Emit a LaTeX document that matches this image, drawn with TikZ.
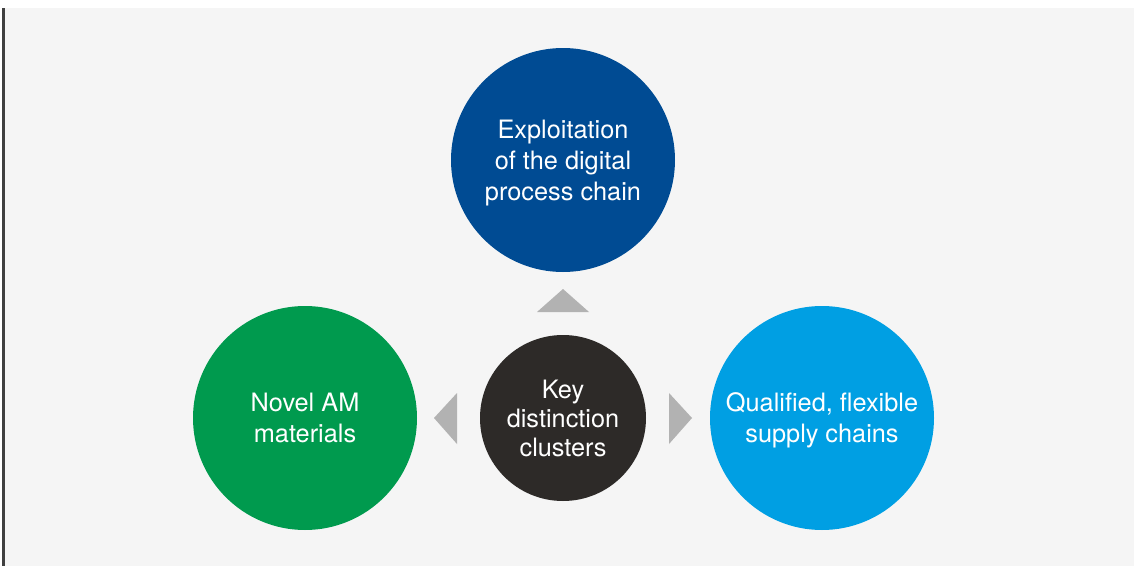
\documentclass[tikz,border=0pt]{standalone}
\usepackage{fontspec}
\setmainfont{TeX Gyre Heros}
\usetikzlibrary{positioning}
\definecolor{DeepBlue}{HTML}{004B93}
\definecolor{LeafGreen}{HTML}{009A4E}
\definecolor{SkyBlue}{HTML}{009FE3}
\definecolor{Charcoal}{HTML}{2D2A28}
\definecolor{PaleGrey}{HTML}{F5F5F5}
\definecolor{ArrowGrey}{HTML}{B2B2B2}
\tikzset{
    cluster/.style={circle, minimum size=224*0.025cm, inner sep=0pt, align=center,
        text=white, font=\fontsize{18}{22}\selectfont, text depth=-6pt},
    pointer/.style={fill=ArrowGrey, draw=none}
}

\begin{document}
\begin{tikzpicture}[x=0.025cm, y=-0.025cm]
\useasboundingbox (0,0) rectangle (1140,566);

% ============================
\fill[white] (0,0) rectangle (1140,566);
\fill[PaleGrey] (4,8) rectangle (1134,566);
\fill[black!75] (2,8) rectangle (4.5,566);

% ============================
\node[cluster, fill=DeepBlue] (chain) at (563,160)
    {Exploitation\\of the digital\\process chain};

\node[cluster, fill=LeafGreen, text depth=-7pt] (materials) at (305,418)
    {Novel AM\\materials};

\node[cluster, fill=SkyBlue] (supply) at (822,418)
    {Qualified, flexible\\supply chains};

\node[cluster, fill=Charcoal, minimum size=166*0.025cm, text depth=0pt,
      font=\fontsize{18}{20.5}\selectfont] (key) at (563,418)
    {Key\\distinction\\clusters};

% ============================
\fill[pointer] (537,312) -- (563,289) -- (589,312) -- cycle;
\fill[pointer] (457,393) -- (434,418) -- (457,444) -- cycle;
\fill[pointer] (669,393) -- (692,418) -- (669,444) -- cycle;

\end{tikzpicture}
\end{document}
